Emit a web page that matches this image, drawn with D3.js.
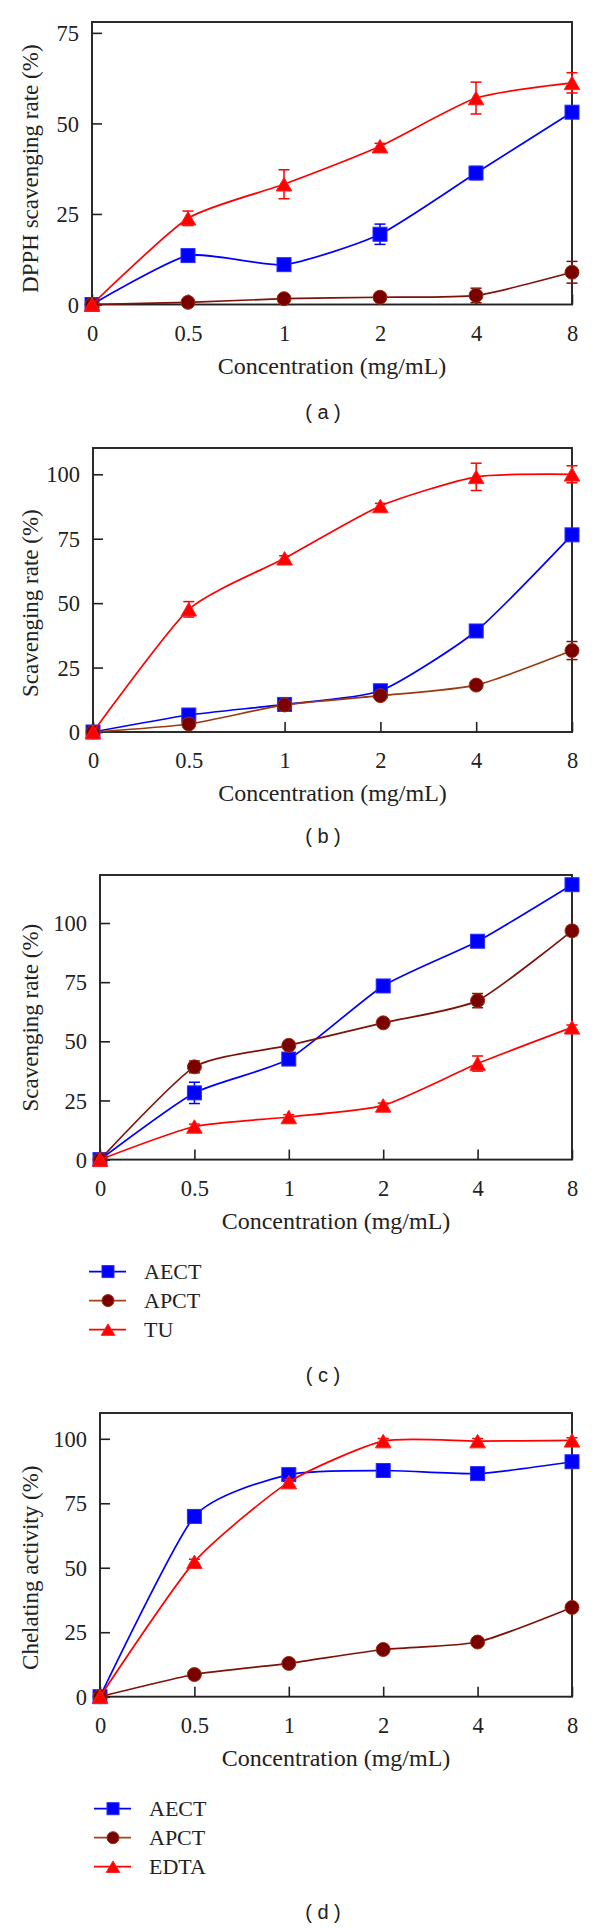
<!DOCTYPE html>
<html><head><meta charset="utf-8">
<script src="https://cdn.jsdelivr.net/npm/d3@7"></script>
<style>html,body{margin:0;padding:0;background:#fff;} svg{display:block}</style>
</head><body><svg id="chart" width="600" height="1929"></svg>
<script>
// ---------- data ----------
const concentrations = ["0", "0.5", "1", "2", "4", "8"];
const yTicks75 = [0, 25, 50, 75];
const yTicks100 = [0, 25, 50, 75, 100];
const seriesNamesC = ["AECT", "APCT", "TU"];
const seriesNamesD = ["AECT", "APCT", "EDTA"];

// (a) DPPH scavenging rate (%)
const aAECT = [0, 13.5, 11.0, 19.4, 36.3, 53.1];
const aAECTErr = [0, 0.8, 0.8, 2.8, 1.8, 0.8];
const aAPCT = [0, 0.6, 1.6, 2.0, 2.5, 8.9];
const aAPCTErr = [0, 0.3, 0.5, 0.5, 2.0, 3.0];
const aTU = [0, 23.8, 33.2, 43.7, 57.0, 61.2];
const aTUErr = [0, 2.0, 4.0, 0.8, 4.4, 2.8];

// (b) Scavenging rate (%)
const bAECT = [0, 6.6, 10.7, 16.0, 39.2, 76.5];
const bAECTErr = [0, 1.0, 1.0, 1.0, 1.5, 1.5];
const bAPCT = [0, 3.1, 10.5, 14.1, 18.2, 31.6];
const bAPCTErr = [0, 1.0, 1.0, 1.0, 1.0, 3.5];
const bTU = [0, 47.6, 67.4, 87.7, 99.0, 100.0];
const bTUErr = [0, 3.0, 1.0, 1.0, 5.3, 3.3];

// (c) Scavenging rate (%)
const cAECT = [0, 28.2, 42.5, 73.4, 92.3, 116.2];
const cAECTErr = [0, 4.5, 1.0, 1.0, 1.0, 1.0];
const cAPCT = [0, 39.2, 48.3, 57.8, 67.2, 96.7];
const cAPCTErr = [0, 2.5, 1.0, 1.0, 3.0, 2.0];
const cTU = [0, 14.0, 18.0, 22.9, 40.6, 55.9];
const cTUErr = [0, 1.0, 1.0, 1.0, 3.2, 1.0];

// (d) Chelating activity (%)
const dAECT = [0, 69.9, 86.1, 87.7, 86.5, 91.1];
const dAECTErr = [0, 1.0, 1.0, 1.0, 1.0, 1.0];
const dAPCT = [0, 8.6, 12.9, 18.3, 21.2, 34.6];
const dAPCTErr = [0, 1.0, 1.0, 1.0, 1.0, 1.0];
const dEDTA = [0, 52.3, 83.2, 99.1, 99.1, 99.4];
const dEDTAErr = [0, 1.0, 1.0, 1.0, 1.0, 1.0];

// ---------- styles / layout ----------
const styles = {
  AECT: {line: "#0000ff", fill: "#0000ff", stroke: "#2a2aff", shape: "square"},
  APCT: {line: "#7e1208", fill: "#7a0000", stroke: "#96300e", shape: "circle"},
  TU:   {line: "#ff0000", fill: "#ff0000", stroke: "#ff2020", shape: "triangle"},
  EDTA: {line: "#ff0000", fill: "#ff0000", stroke: "#ff2020", shape: "triangle"}
};
const legendApctLine = "#a2461c";

const panels = [
  {label: "a", left: 92, right: 572, top: 22, bottom: 304.5, yMax: 78, ticks: yTicks75,
   title: "DPPH scavenging rate (%)", titleMid: 37.5, labelDy: 108, legend: null, apctLine: null,
   series: [["AECT", aAECT, aAECTErr], ["APCT", aAPCT, aAPCTErr], ["TU", aTU, aTUErr]]},
  {label: "b", left: 93, right: 572, top: 448, bottom: 732, yMax: 110.2, ticks: yTicks100,
   title: "Scavenging rate (%)", titleMid: 50, labelDy: 105, legend: null, apctLine: "#9a3a12",
   series: [["AECT", bAECT, bAECTErr], ["APCT", bAPCT, bAPCTErr], ["TU", bTU, bTUErr]]},
  {label: "c", left: 100, right: 572, top: 875, bottom: 1159.6, yMax: 120.3, ticks: yTicks100,
   title: "Scavenging rate (%)", titleMid: 60, labelDy: 216, legend: {x: 89, names: seriesNamesC}, apctLine: null,
   series: [["AECT", cAECT, cAECTErr], ["APCT", cAPCT, cAPCTErr], ["TU", cTU, cTUErr]]},
  {label: "d", left: 100, right: 572, top: 1413, bottom: 1696.7, yMax: 110, ticks: yTicks100,
   title: "Chelating activity (%)", titleMid: 50, labelDy: 216, legend: {x: 94, names: seriesNamesD}, apctLine: null,
   series: [["AECT", dAECT, dAECTErr], ["APCT", dAPCT, dAPCTErr], ["EDTA", dEDTA, dEDTAErr]]}
];

const serif = "'Liberation Serif', 'Times New Roman', serif";
const svg = d3.select("#chart");

function drawMarker(g, shape, x, y, size, st) {
  if (shape === "square") {
    g.append("rect").attr("x", x - size / 2).attr("y", y - size / 2)
      .attr("width", size).attr("height", size)
      .attr("fill", st.fill).attr("stroke", st.stroke).attr("stroke-width", 1);
  } else if (shape === "circle") {
    g.append("circle").attr("cx", x).attr("cy", y).attr("r", size / 2)
      .attr("fill", st.fill).attr("stroke", st.stroke).attr("stroke-width", 1);
  } else {
    const w = size + 1.5, h = size - 0.5;
    const pts = [[x, y - h / 2], [x + w / 2, y + h / 2], [x - w / 2, y + h / 2]];
    g.append("path").attr("d", d3.line()(pts) + "Z")
      .attr("fill", st.fill).attr("stroke", st.stroke).attr("stroke-width", 1);
  }
}

panels.forEach(p => {
  const g = svg.append("g");
  const x = d3.scalePoint().domain(concentrations).range([p.left, p.right]);
  const y = d3.scaleLinear().domain([0, p.yMax]).range([p.bottom, p.top]);

  // box
  g.append("rect").attr("x", p.left).attr("y", p.top)
    .attr("width", p.right - p.left).attr("height", p.bottom - p.top)
    .attr("fill", "none").attr("stroke", "#222").attr("stroke-width", 1.9);

  // y axis (inward ticks)
  const yAxis = d3.axisLeft(y).tickValues(p.ticks).tickSize(-10).tickPadding(13)
    .tickFormat(d3.format("d"));
  const ya = g.append("g").attr("transform", `translate(${p.left},0)`).call(yAxis);
  ya.select(".domain").remove();
  ya.selectAll(".tick line").attr("stroke", "#222").attr("stroke-width", 1.6);
  ya.selectAll(".tick text").attr("font-family", serif).attr("font-size", 22.5)
    .attr("fill", "#222").attr("dy", "0.34em").attr("x", -13);

  // x axis (inward ticks)
  const xAxis = d3.axisBottom(x).tickSize(-10).tickPadding(0);
  const xa = g.append("g").attr("transform", `translate(0,${p.bottom})`).call(xAxis);
  xa.select(".domain").remove();
  xa.selectAll(".tick line").attr("stroke", "#222").attr("stroke-width", 1.6);
  xa.selectAll(".tick text").attr("font-family", serif).attr("font-size", 22.5)
    .attr("fill", "#222").attr("y", 36).attr("dy", null);

  // axis titles
  g.append("text").attr("x", (p.left + p.right) / 2).attr("y", p.bottom + 69)
    .attr("text-anchor", "middle").attr("font-family", serif).attr("font-size", 24)
    .attr("fill", "#222").text("Concentration (mg/mL)");
  g.append("text")
    .attr("transform", `translate(38,${y(p.titleMid)}) rotate(-90)`)
    .attr("text-anchor", "middle").attr("font-family", serif).attr("font-size", 23)
    .attr("fill", "#222").text(p.title);

  // series
  const lineGen = d3.line().x((d, i) => x(concentrations[i])).y(d => y(d))
    .curve(d3.curveCardinal.tension(0.4));
  p.series.forEach(([name, vals, errs]) => {
    const st = styles[name];
    const lc = (name === "APCT" && p.apctLine) ? p.apctLine : st.line;
    const sg = g.append("g");
    sg.append("path").attr("d", lineGen(vals)).attr("fill", "none")
      .attr("stroke", lc).attr("stroke-width", 1.7);
    vals.forEach((v, i) => {
      const e = errs[i];
      if (e > 0) {
        const cx = x(concentrations[i]);
        const y1 = y(v + e), y2 = y(v - e);
        sg.append("line").attr("x1", cx).attr("x2", cx).attr("y1", y1).attr("y2", y2)
          .attr("stroke", st.line).attr("stroke-width", 1.5);
        [y1, y2].forEach(yy => sg.append("line").attr("x1", cx - 5.5).attr("x2", cx + 5.5)
          .attr("y1", yy).attr("y2", yy).attr("stroke", st.line).attr("stroke-width", 1.5));
      }
    });
    vals.forEach((v, i) => drawMarker(sg, st.shape, x(concentrations[i]), y(v), 14, st));
  });

  // legend
  if (p.legend) {
    p.legend.names.forEach((name, i) => {
      const st = styles[name];
      const ly = p.bottom + 112 + i * 29;
      const lx = p.legend.x;
      g.append("line").attr("x1", lx).attr("x2", lx + 37).attr("y1", ly).attr("y2", ly)
        .attr("stroke", name === "APCT" ? legendApctLine : st.line).attr("stroke-width", 1.8);
      drawMarker(g, st.shape, lx + 19, ly, 12, st);
      g.append("text").attr("x", lx + 55).attr("y", ly).attr("dy", "0.35em")
        .attr("font-family", serif).attr("font-size", 22).attr("fill", "#222").text(name);
    });
  }

  // panel label
  g.append("text").attr("x", 323).attr("y", p.bottom + p.labelDy + 6)
    .attr("text-anchor", "middle").attr("font-family", "'Liberation Sans', Arial, sans-serif")
    .attr("font-size", 20).attr("fill", "#222").attr("xml:space", "preserve")
    .style("white-space", "pre").text(`( ${p.label} )`);
});
</script></body></html>
